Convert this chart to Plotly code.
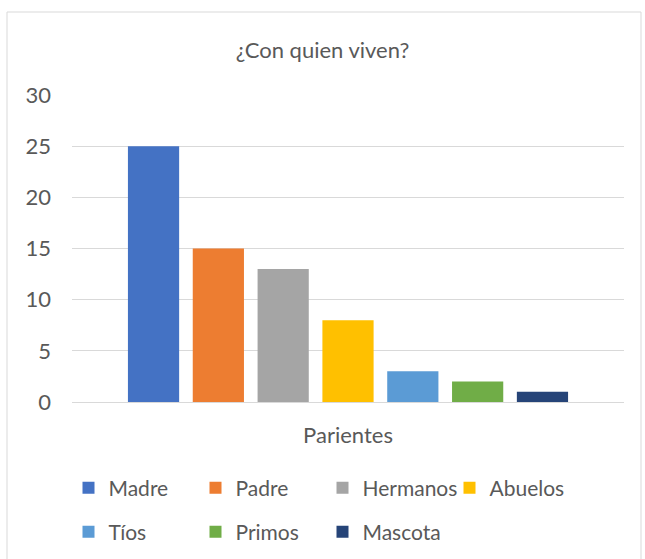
import plotly.graph_objects as go

# ── Data ──────────────────────────────────────────────────────────────────────
CATEGORY = ["Parientes"]
SERIES   = ["Madre", "Padre", "Hermanos", "Abuelos", "Tíos", "Primos", "Mascota"]
VALUES   = [25, 15, 13, 8, 3, 2, 1]
COLORS   = ["#4472c4", "#ed7d31", "#a5a5a5", "#ffc000",
            "#5b9bd5", "#70ad47", "#264478"]
Y_TICKS  = [0, 5, 10, 15, 20, 25, 30]

FONT = "Lato, 'Open Sans', sans-serif"
TEXT = "#595959"
GRID = "#d9d9d9"
SIZE = 22

fig = go.Figure()
for i, (name, val, col) in enumerate(zip(SERIES, VALUES, COLORS)):
    fig.add_trace(go.Bar(
        x=CATEGORY, y=[val], name=name, marker_color=col,
        marker_line_width=0,
        legend="legend" if i < 4 else "legend2",
    ))

_legend = dict(
    orientation="h", xanchor="left", yanchor="middle",
    entrywidth=82, entrywidthmode="pixels", itemwidth=30,
    font=dict(family=FONT, size=21, color=TEXT),
    bgcolor="rgba(0,0,0,0)",
)

fig.update_layout(
    width=645, height=559,
    margin=dict(l=72, r=21, t=95, b=157, autoexpand=False),
    paper_bgcolor="white", plot_bgcolor="white",
    font=dict(family=FONT, color=TEXT, size=SIZE),
    title=dict(text="¿Con quien viven?", x=0.5, xanchor="center",
               y=1 - 50 / 559, yanchor="middle",
               font=dict(family=FONT, size=SIZE, color=TEXT)),
    barmode="group", bargap=0.178, bargroupgap=0.21,
    showlegend=True,
    legend=dict(_legend, x=(68.5 - 72) / 552, y=(402 - 488) / 307),
    legend2=dict(_legend, x=(68.5 - 72) / 552, y=(402 - 532) / 307),
    xaxis=dict(showgrid=False, showline=False, ticks="", automargin=False,
               tickfont=dict(family=FONT, size=SIZE, color=TEXT),
               ticklabelstandoff=18),
    yaxis=dict(range=[0, 30], tickvals=Y_TICKS, showgrid=True,
               gridcolor=GRID, gridwidth=1, zeroline=True, automargin=False,
               zerolinecolor=GRID, zerolinewidth=1, showline=False,
               ticks="", ticklabelstandoff=20,
               tickfont=dict(family=FONT, size=SIZE, color=TEXT)),
)

# chart-area border, like the Excel frame
fig.add_shape(type="rect", xref="paper", yref="paper",
              x0=(7 - 72) / 552, x1=(641 - 72) / 552,
              y0=(402 - 600) / 307, y1=(402 - 12) / 307,
              line=dict(color=GRID, width=1), fillcolor="rgba(0,0,0,0)",
              layer="below")

fig.write_html("out.html", config={"displayModeBar": False},
               post_script="document.body.style.margin='0';")
